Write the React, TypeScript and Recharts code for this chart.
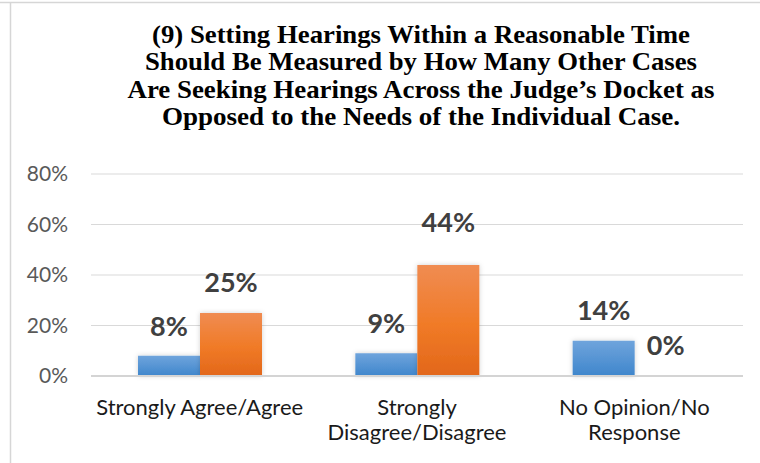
import React from "react";
import { BarChart, Bar, XAxis, YAxis, CartesianGrid, LabelList } from "recharts";

const categories = ["Strongly Agree/Agree", "Strongly Disagree/Disagree", "No Opinion/No Response"];
const seriesA = [8, 9, 14];
const seriesB = [25, 44, 0];
const yTicks = [0, 20, 40, 60, 80];
const titleLines = [
  "(9) Setting Hearings Within a Reasonable Time",
  "Should Be Measured by How Many Other Cases",
  "Are Seeking Hearings Across the Judge\u2019s Docket as",
  "Opposed to the Needs of the Individual Case.",
];

const data = categories.map((c, i) => ({ name: c, a: seriesA[i], b: seriesB[i] }));

function wrap(s: string, max: number): string[] {
  const words = s.split(" ");
  const lines: string[] = [];
  let cur = "";
  for (const w of words) {
    const t = cur ? cur + " " + w : w;
    if (t.length > max && cur) {
      lines.push(cur);
      cur = w;
    } else cur = t;
  }
  if (cur) lines.push(cur);
  return lines;
}

const XTick = (props: any) => {
  const { x, y, payload } = props;
  const lines = wrap(String(payload.value), 20);
  return (
    <g>
      {lines.map((l, i) => (
        <text key={i} x={x} y={y + 31 + i * 25} textAnchor="middle" fill="#1a1a1a"
          style={{ fontFamily: "Lato, sans-serif", fontSize: 22 }}>
          {l}
        </text>
      ))}
    </g>
  );
};

const makeLabel = (lifts: number[]) => (props: any) => {
  const { x, y, width, height, value, index } = props;
  const top = Math.min(y, y + (height || 0));
  return (
    <text x={x + width / 2} y={top - lifts[index]} textAnchor="middle" dominantBaseline="central"
      fill="#404040" style={{ fontFamily: "Lato, sans-serif", fontSize: 27, fontWeight: 700 }}>
      {value}%
    </text>
  );
};

// rendered widths of the title lines in the reference (condensed serif)
const TITLE_WIDTHS = [538, 552, 587, 518];

export default function App() {
  return (
    <div style={{ position: "absolute", left: 0, top: 0, width: 760, height: 463, background: "#fff" }}>
      <BarChart width={760} height={463} data={data} barSize={62} barGap={0}
        margin={{ top: 174, right: 17, bottom: 57, left: 11 }}>
        <defs>
          <linearGradient id="gBlue" x1="0" y1="0" x2="0" y2="1">
            <stop offset="0%" stopColor="#6fa4dc" />
            <stop offset="100%" stopColor="#3f86cc" />
          </linearGradient>
          <linearGradient id="gOrange" x1="0" y1="0" x2="0" y2="1">
            <stop offset="0%" stopColor="#f08c52" />
            <stop offset="55%" stopColor="#f07a26" />
            <stop offset="100%" stopColor="#e2671b" />
          </linearGradient>
          <filter id="shadow" x="-20%" y="-20%" width="140%" height="140%">
            <feDropShadow dx="0" dy="0" stdDeviation="2.5" floodColor="#000" floodOpacity="0.18" />
          </filter>
        </defs>
        <CartesianGrid vertical={false} stroke="#d9d9d9" strokeWidth={1.2} />
        <XAxis dataKey="name" axisLine={{ stroke: "#d4d4d4", strokeWidth: 2 }} tickLine={false}
          tick={<XTick />} interval={0} />
        <YAxis domain={[0, 80]} ticks={yTicks} width={80} axisLine={false} tickLine={false}
          tickMargin={17} tickFormatter={(v: number) => `${v}%`}
          tick={{ fill: "#595959", fontSize: 21, fontFamily: "Lato, sans-serif" }} />
        <Bar dataKey="a" fill="url(#gBlue)" isAnimationActive={false} style={{ filter: "url(#shadow)" }}>
          <LabelList dataKey="a" content={makeLabel([30, 31, 31])} />
        </Bar>
        <Bar dataKey="b" fill="url(#gOrange)" isAnimationActive={false} style={{ filter: "url(#shadow)" }}
          minPointSize={(v: number) => (v === 0 ? 0.01 : 0)}>
          <LabelList dataKey="b" content={makeLabel([31, 43, 31])} />
        </Bar>
      </BarChart>
      <svg width={760} height={463} style={{ position: "absolute", left: 0, top: 0, pointerEvents: "none" }}>
        <line x1={0} y1={2.5} x2={760} y2={2.5} stroke="#d6d6d6" strokeWidth={1.5} />
        <line x1={10.5} y1={2} x2={10.5} y2={463} stroke="#d6d6d6" strokeWidth={1.5} />
        {titleLines.map((t, i) => (
          <text key={i} x={421} y={42.5 + i * 27.5} textAnchor="middle" fill="#000"
            textLength={TITLE_WIDTHS[i]} lengthAdjust="spacingAndGlyphs"
            style={{ fontFamily: "'Liberation Serif', 'Times New Roman', serif", fontSize: 26, fontWeight: 700 }}>
            {t}
          </text>
        ))}
      </svg>
    </div>
  );
}
